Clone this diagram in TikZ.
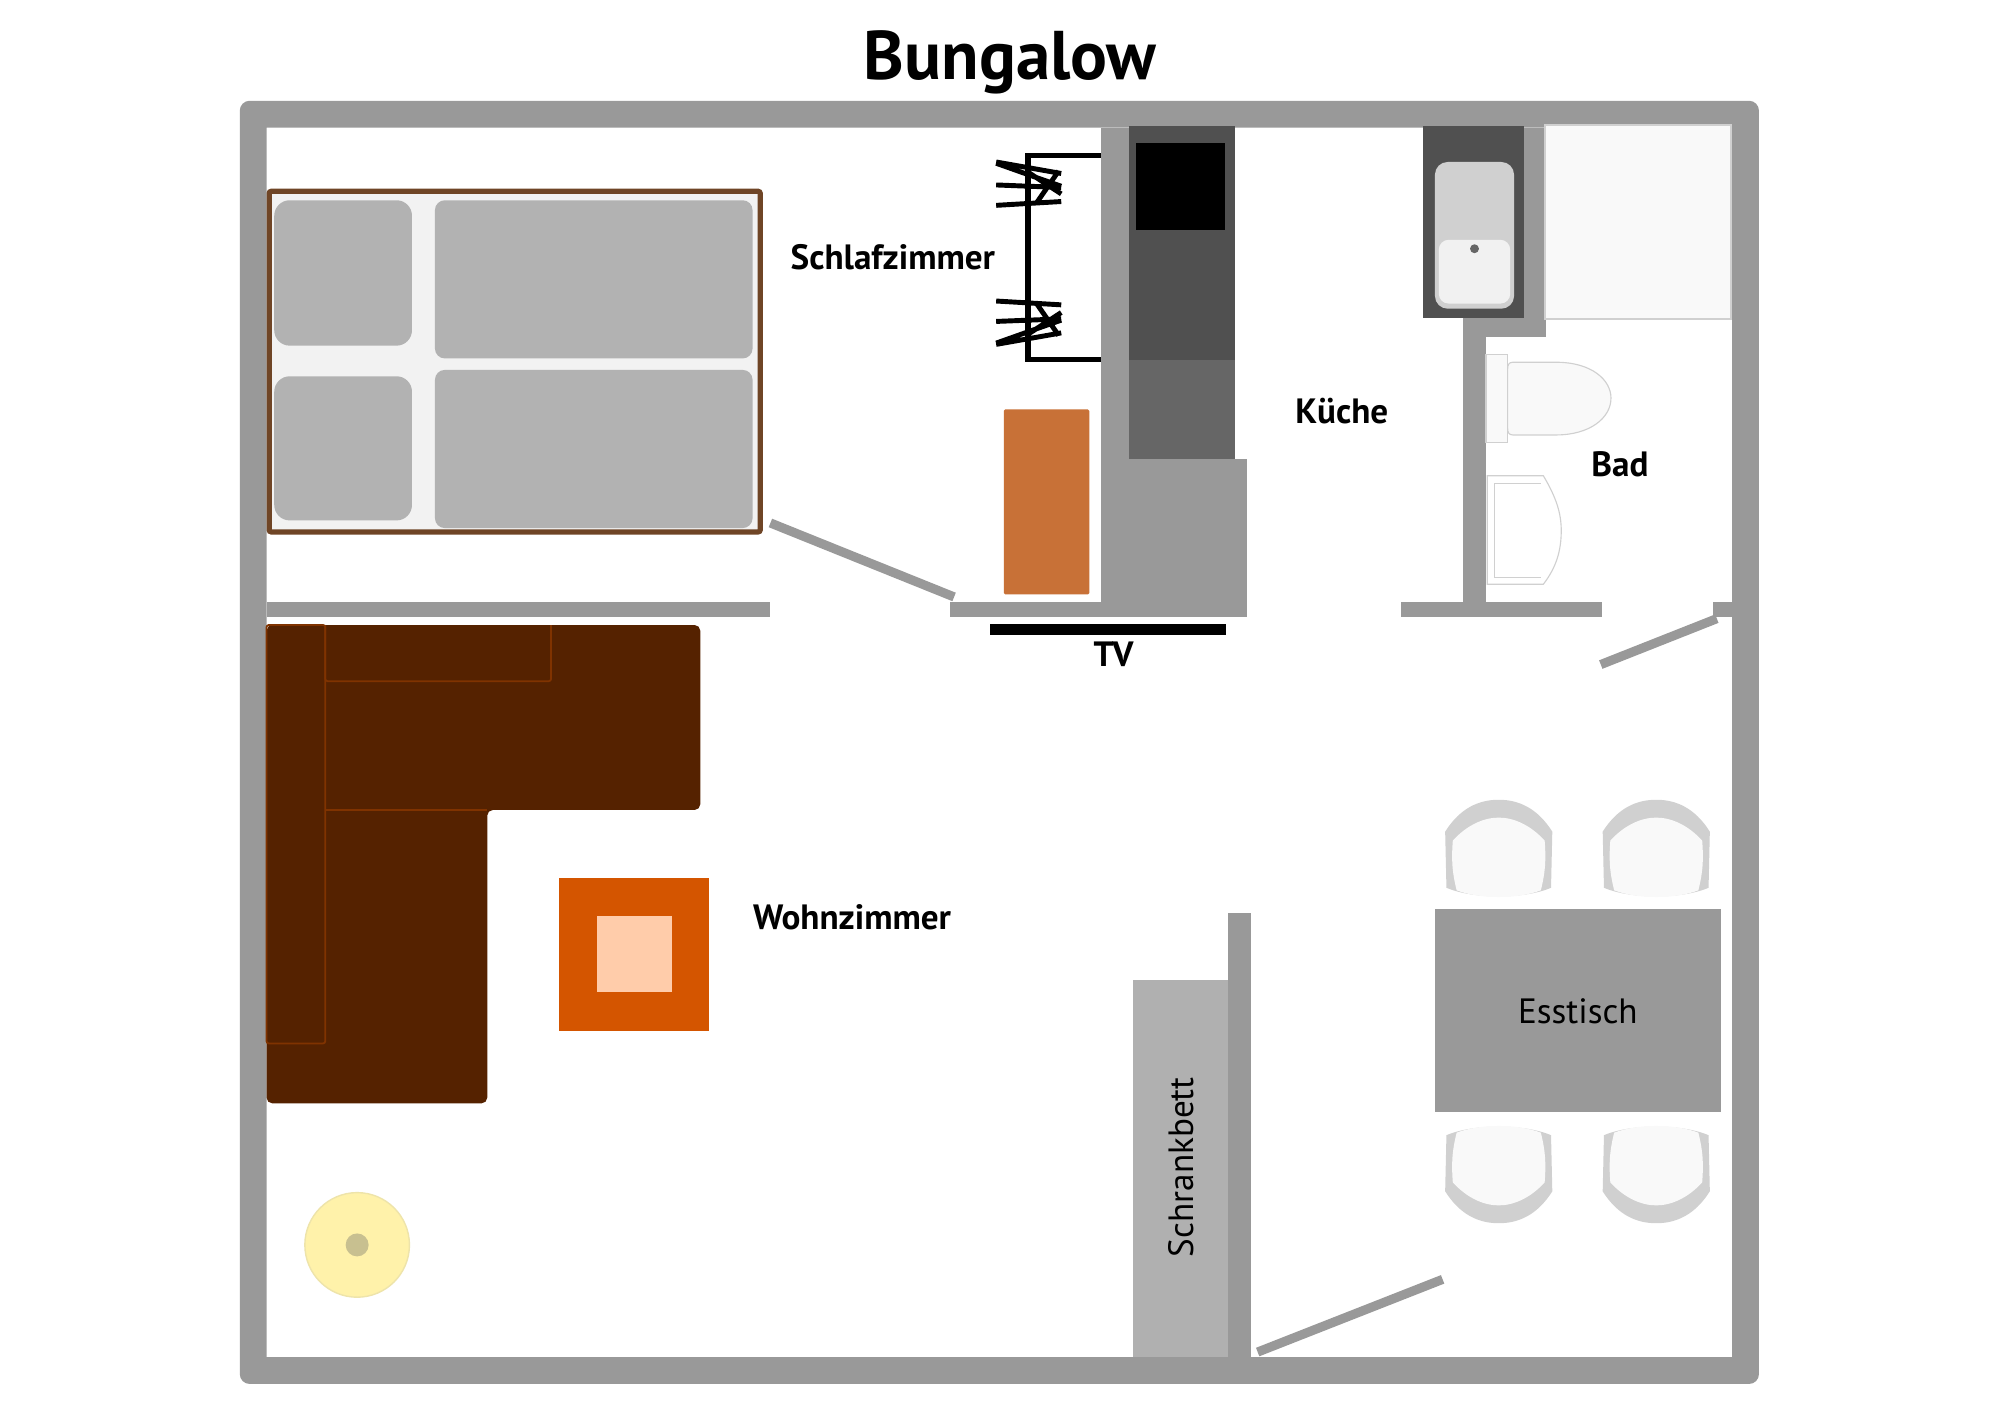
\documentclass[tikz,border=0pt]{standalone}
\usepackage{fontspec}
\setmainfont{PT Sans}
\definecolor{wall}{HTML}{999999}
\definecolor{darkc}{HTML}{505050}
\definecolor{midc}{HTML}{666666}
\definecolor{pillow}{HTML}{B2B2B2}
\definecolor{sofa}{HTML}{552200}
\definecolor{sofaline}{HTML}{803300}
\definecolor{bedframe}{HTML}{6F4526}
\definecolor{bedfill}{HTML}{F2F2F2}
\definecolor{offw}{HTML}{F9F9F9}
\definecolor{line}{HTML}{D0D0D0}
\definecolor{wardrobe}{HTML}{C87137}
\definecolor{tableout}{HTML}{D45500}
\definecolor{tablein}{HTML}{FFCCAA}
\definecolor{lampfill}{HTML}{FFF2AA}
\definecolor{lampedge}{HTML}{EEE4AA}
\definecolor{lampdot}{HTML}{C8C090}
\definecolor{bedwall}{HTML}{B0B0B0}
\newcommand{\fsz}[1]{\fontsize{#1}{#1}\selectfont}
\tikzset{
  x=0.06378cm,y=-0.06378cm,
  wallfill/.style={fill=wall,draw=none},
  doorleaf/.style={draw=wall,line width=13pt},
  pillowbox/.style={fill=pillow,draw=none,rounded corners=22pt},
  bold label/.style={font=\fsz{50}\bfseries,inner sep=0pt},
  thin label/.style={font=\fsz{50},inner sep=0pt},
  hanger/.style={draw=black,line width=7pt},
  sanitary/.style={fill=offw,draw=line,line width=1.6pt},
  chair/.pic={
    \fill[line] (-41,69) -- (-42,25) .. controls (-30,6) and (-15,0) .. (0,0)
      .. controls (15,0) and (30,6) .. (42,25) -- (41,69)
      .. controls (20,78) and (-20,78) .. cycle;
    \fill[offw] (-33,71) .. controls (-37,55) and (-37,45) .. (-36,32) .. controls (-25,20) and (-12,14) .. (0,14)
      .. controls (12,14) and (25,20) .. (36,32) .. controls (37,45) and (37,55) .. (33,71)
      .. controls (15,78) and (-15,78) .. cycle;
  },
  hangers/.pic={
    \draw[hanger] (781,127) -- (832,136) (781,128) -- (812,139) -- (832,146)
      (781,145) -- (832,147) (781,161) -- (832,158) (830,134) -- (812,160)
      (832,152) -- (806,135);
  }
}
\begin{document}
\begin{tikzpicture}
\useasboundingbox (0,0) rectangle (1568,1109);
\fill[white] (0,0) rectangle (1568,1109);
% outer walls
\fill[wall,rounded corners=14pt,even odd rule] (188,79) rectangle (1379,1085)
  [sharp corners] (209,100) rectangle (1358,1064);
% inner walls
\fill[wallfill] (209,472) rectangle (604,484);
\fill[wallfill] (745,472) rectangle (978,484);
\fill[wallfill] (863,100) rectangle (885,472);
\fill[wallfill] (880,360) rectangle (978,472);
\fill[wallfill] (1098,472) rectangle (1256,484);
\fill[wallfill] (1343,472) rectangle (1358,484);
\fill[wallfill] (1147,249) rectangle (1165,472);
\fill[wallfill] (1147,249) rectangle (1212,264);
\fill[wallfill] (1195,100) rectangle (1212,264);
\fill[wallfill] (963,716) rectangle (981,1064);
% doors
\coordinate (d1a) at (604,410); \coordinate (d1b) at (748,468);
\coordinate (d2a) at (1255,521); \coordinate (d2b) at (1346,485);
\coordinate (d3a) at (986,1060); \coordinate (d3b) at (1131,1003);
\draw[doorleaf] (d1a) -- (d1b);
\draw[doorleaf] (d2a) -- (d2b);
\draw[doorleaf] (d3a) -- (d3b);
% kitchen
\fill[darkc] (885,99) rectangle (968,282);
\fill[black] (891,112) rectangle (960,180);
\fill[midc] (885,282) rectangle (968,360);
% bath
\fill[darkc] (1116,99) rectangle (1195,249);
\fill[line,rounded corners=18pt] (1125,127) rectangle (1187,242);
\fill[offw!97!black,rounded corners=14pt] (1128,188) rectangle (1184,238);
\fill[midc] (1156,195) circle (3.5);
\filldraw[fill=offw,draw=line,line width=3pt] (1211,98) rectangle (1357,250);
% toilet
\filldraw[sanitary] (1165,278) rectangle (1182,347);
\filldraw[sanitary] (1186,284) -- (1220,284) .. controls (1248,284) and (1263,298) .. (1263,312)
  .. controls (1263,328) and (1246,341) .. (1220,341) -- (1186,341) .. controls (1183,341) and (1182,339) .. (1182,336)
  -- (1182,289) .. controls (1182,286) and (1183,284) .. (1186,284) -- cycle;
% sink
\filldraw[fill=white,draw=line,line width=1.6pt] (1166,373) -- (1210,373)
  .. controls (1220,390) and (1224,402) .. (1224,416)
  .. controls (1224,432) and (1220,445) .. (1210,458) -- (1166,458) -- cycle;
\draw[line,line width=1.2pt] (1172,379) -- (1208,379) (1172,379) -- (1172,453) -- (1208,453);
% wardrobe, rack
\fill[wardrobe,rounded corners=2pt] (787,321) rectangle (854,466);
\coordinate (ra) at (863,122); \coordinate (rb) at (806,122);
\coordinate (rc) at (806,282); \coordinate (rd) at (863,282);
\draw[black,line width=7.5pt] (ra) -- (rb) -- (rc) -- (rd);
\pic {hangers};
\pic[yscale=-1] at (0,397) {hangers};
% bed
\filldraw[fill=bedfill,draw=bedframe,line width=7.5pt,rounded corners=3pt] (211,150) rectangle (596,417);
\fill[pillowbox] (215,157) rectangle (323,271);
\fill[pillowbox] (215,295) rectangle (323,408);
\fill[pillowbox,rounded corners=14pt] (341,157) rectangle (590,281);
\fill[pillowbox,rounded corners=14pt] (341,290) rectangle (590,414);
% sofa
\fill[sofa,rounded corners=8pt] (209,490) -- (549,490) -- (549,635) -- (382,635) -- (382,865) -- (209,865) -- cycle;
\fill[sofa] (370,625) rectangle (382,645);
\draw[sofaline,line width=2.5pt,rounded corners=3pt] (209,490) rectangle (255,818);
\draw[sofaline,line width=2.5pt,rounded corners=3pt] (255,490) -- (255,534) -- (432,534) -- (432,490);
\draw[sofaline,line width=2pt] (255,635) -- (382,635);
% coffee table
\fill[tableout] (438,688) rectangle (556,808);
\fill[tablein] (468,718) rectangle (527,778);
% lamp
\filldraw[fill=lampfill,draw=lampedge,line width=2pt] (280,976) circle (41);
\fill[lampdot] (280,976) circle (9);
% TV
\fill[black] (776,489) rectangle (961,498);
% dining
\fill[wall] (1125,713) rectangle (1349,872);
\pic at (1175,627) {chair};
\pic at (1298.5,627) {chair};
\pic[yscale=-1] at (1175,959) {chair};
\pic[yscale=-1] at (1298.5,959) {chair};
% schrankbett
\fill[bedwall] (888,768) rectangle (963,1064);
% labels
\node[font=\fsz{98}\bfseries,inner sep=0pt] (title) at (792,49) {Bungalow};
\node[bold label] (schlaf) at (700,202) {Schlafzimmer};
\node[bold label] (kueche) at (1052,322) {Küche};
\node[bold label] (bad) at (1270,364) {Bad};
\node[bold label] (tv) at (873,513) {TV};
\node[bold label] (wohn) at (668,719) {Wohnzimmer};
\node[thin label] (ess) at (1237,793) {Esstisch};
\node[thin label,rotate=90] (schrank) at (926,915) {Schrankbett};
\end{tikzpicture}
\end{document}
